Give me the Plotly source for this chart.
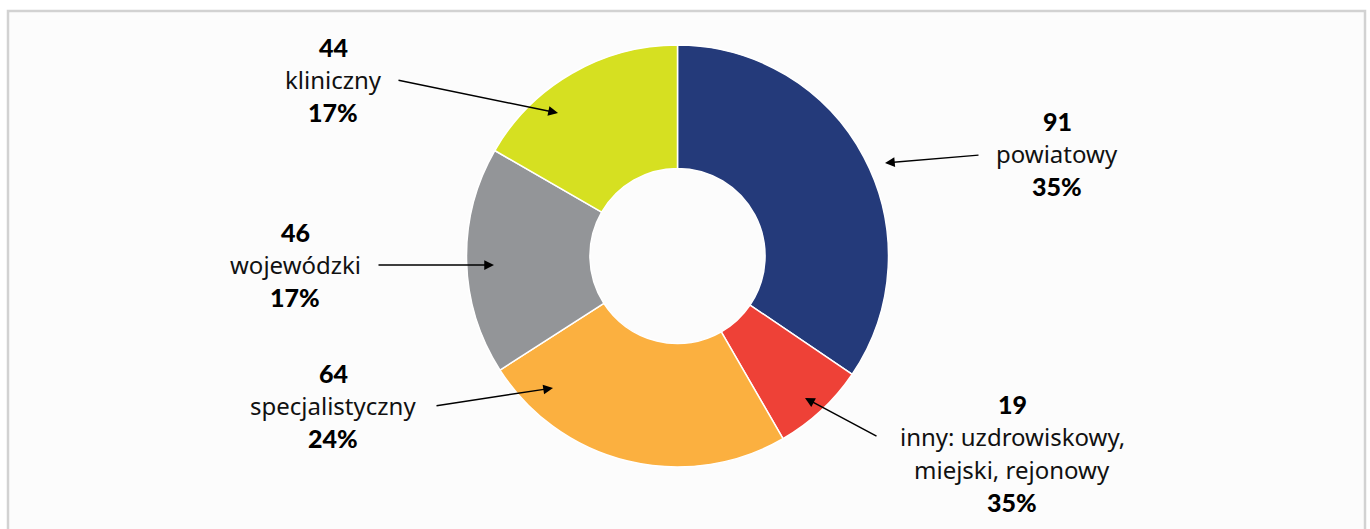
import plotly.graph_objects as go

W, H = 1370, 529

categories = ["powiatowy", "inny: uzdrowiskowy,<br>miejski, rejonowy", "specjalistyczny", "wojewódzki", "kliniczny"]
values = [91, 19, 64, 46, 44]
pct_labels = ["35%", "35%", "24%", "17%", "17%"]
colors = ["#243a7a", "#ee4137", "#fbb040", "#939598", "#d6e021"]

# label block layout (pixel positions): center x, y of first line, arrow tail, arrow head
label_pos = [
    dict(cx=1057, y0=121, tail=(980, 155), head=(885, 163)),
    dict(cx=1012, y0=404, tail=(878, 437), head=(805, 398)),
    dict(cx=333, y0=373, tail=(435, 406), head=(553, 388)),
    dict(cx=295, y0=232, tail=(377, 265), head=(494, 265)),
    dict(cx=333, y0=47, tail=(397, 80), head=(558, 113)),
]
LINE = 32.5

def px(x):
    return x / W

def py(y):
    return 1 - y / H

cx, cy, R = 677.5, 256, 211

fig = go.Figure(go.Pie(
    labels=categories,
    values=values,
    hole=0.415,
    sort=False,
    direction="clockwise",
    rotation=0,
    marker=dict(colors=colors, line=dict(color="white", width=1.5)),
    textinfo="none",
    hoverinfo="skip",
    showlegend=False,
    domain=dict(x=[px(cx - R), px(cx + R)], y=[py(cy + R), py(cy - R)]),
))

annotations = []
font_reg = dict(family="Noto Sans, Open Sans, sans-serif", size=24, color="#111111")
font_bold = dict(family="Lato, Noto Sans, sans-serif", size=25, color="#000000", weight=900)
for cat, val, pct, pos in zip(categories, values, pct_labels, label_pos):
    lines = [(f"{val}", font_bold)]
    for part in cat.split("<br>"):
        lines.append((part, font_reg))
    lines.append((f"{pct}", font_bold))
    for i, (t, f) in enumerate(lines):
        annotations.append(dict(
            x=px(pos["cx"]), y=py(pos["y0"] + i * LINE), xref="paper", yref="paper",
            text=t, showarrow=False, font=f, xanchor="center", yanchor="middle",
        ))
    hx, hy = pos["head"]
    tx, ty = pos["tail"]
    annotations.append(dict(
        x=px(hx), y=py(hy), xref="paper", yref="paper",
        ax=tx - hx, ay=ty - hy, text="", showarrow=True,
        arrowhead=2, arrowsize=1.3, arrowwidth=1.5, arrowcolor="#000000",
    ))

fig.update_layout(
    width=W, height=H,
    margin=dict(l=0, r=0, t=0, b=0),
    paper_bgcolor="white",
    annotations=annotations,
    shapes=[dict(
        type="rect", xref="paper", yref="paper",
        x0=px(8), x1=px(1365), y0=-0.05, y1=py(11),
        line=dict(color="#d2d2d2", width=2.5), fillcolor="#fcfcfc", layer="below",
    )],
)

fig.write_html(
    "out.html",
    config={"displayModeBar": False},
    post_script="document.body.style.margin='0px';document.body.style.overflow='hidden';",
)
